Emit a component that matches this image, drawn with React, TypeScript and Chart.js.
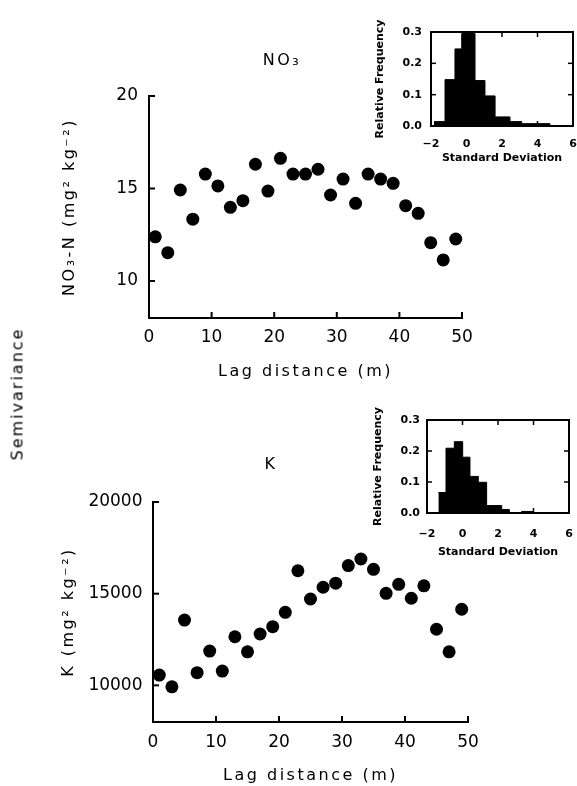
import React, { useEffect, useRef } from 'react';
import { Chart, registerables } from 'chart.js';

Chart.register(...registerables);
Chart.defaults.font.family = '"DejaVu Sans", sans-serif';
Chart.defaults.color = '#000';

// ---------- data ----------
const lagDistances = [1, 3, 5, 7, 9, 11, 13, 15, 17, 19, 21, 23, 25, 27, 29, 31, 33, 35, 37, 39, 41, 43, 45, 47, 49];
const no3Semivariance = [12.39, 11.53, 14.92, 13.34, 15.78, 15.14, 13.98, 14.34, 16.31, 14.86, 16.63, 15.78, 15.78, 16.04, 14.65, 15.51, 14.2, 15.78, 15.51, 15.28, 14.07, 13.66, 12.07, 11.14, 12.27];
const kSemivariance = [10560, 9920, 13560, 10690, 11870, 10780, 12650, 11830, 12800, 13200, 13980, 16250, 14710, 15350, 15570, 16530, 16890, 16330, 15020, 15510, 14750, 15430, 13060, 11830, 14150];

const lagTicks = [0, 10, 20, 30, 40, 50];
const no3Ticks = [10, 15, 20];
const kTicks = [10000, 15000, 20000];

const no3HistEdges = [-1.83, -1.21, -0.65, -0.27, 0.48, 1.04, 1.61, 2.45, 3.11, 4.7];
const no3HistFreq = [0.014, 0.148, 0.246, 0.295, 0.145, 0.096, 0.029, 0.014, 0.0075];
const kHistEdges = [-1.36, -0.93, -0.46, 0.01, 0.42, 0.89, 1.36, 2.21, 2.64, 3.33, 3.99];
const kHistFreq = [0.066, 0.209, 0.23, 0.18, 0.118, 0.099, 0.024, 0.011, 0, 0.005];

const sdTicks = [-2, 0, 2, 4, 6];
const freqTicks = [0, 0.1, 0.2, 0.3];

const lagTitle = 'Lag distance (m)';
const no3Title = 'NO₃';
const no3AxisTitle = 'NO₃-N (mg² kg⁻²)';
const kTitle = 'K';
const kAxisTitle = 'K (mg² kg⁻²)';
const freqTitle = 'Relative Frequency';
const sdTitle = 'Standard Deviation';
const semivarianceTitle = 'Semivariance';

// ---------- helpers ----------
const fixedSize = (size: number) => (scale: any) => {
  if (scale.isHorizontal()) scale.height = size;
  else scale.width = size;
};
const useTicks = (values: number[]) => (scale: any) => {
  scale.ticks = values.map((v) => ({ value: v }));
};

// letter spacing for titles (drawn before datasets); tick labels drawn later without it
const spacingPlugin = {
  id: 'titleSpacing',
  beforeDraw(chart: any, _args: any, opts: any) {
    chart.ctx.letterSpacing = (opts.px ?? 0) + 'px';
  },
  beforeDatasetsDraw(chart: any) {
    chart.ctx.letterSpacing = '0px';
  },
};

// tick marks pointing into the plot area
const inwardTicksPlugin = {
  id: 'inwardTicks',
  afterDraw(chart: any, _args: any, opts: any) {
    const ctx = chart.ctx;
    const len = opts.length ?? 6;
    ctx.save();
    ctx.strokeStyle = '#000';
    ctx.lineWidth = opts.width ?? 2;
    Object.values(chart.scales).forEach((scale: any) => {
      if (!scale.options.display || scale.options.noTicks) return;
      scale.ticks.forEach((t: any) => {
        const p = scale.getPixelForValue(t.value);
        ctx.beginPath();
        if (scale.position === 'left') { ctx.moveTo(scale.right, p); ctx.lineTo(scale.right + len, p); }
        else if (scale.position === 'right') { ctx.moveTo(scale.left, p); ctx.lineTo(scale.left - len, p); }
        else if (scale.position === 'bottom') { ctx.moveTo(p, scale.top); ctx.lineTo(p, scale.top - len); }
        else if (scale.position === 'top') { ctx.moveTo(p, scale.bottom); ctx.lineTo(p, scale.bottom + len); }
        ctx.stroke();
      });
    });
    ctx.restore();
  },
};

function mainAxis(o: {
  position: string; min: number; max: number; ticks: number[]; size: number;
  title: string; titlePad: any; tickPad: number;
}) {
  return {
    type: 'linear',
    position: o.position,
    min: o.min,
    max: o.max,
    afterFit: fixedSize(o.size),
    afterBuildTicks: useTicks(o.ticks),
    grid: { display: false, drawOnChartArea: false, drawTicks: false },
    border: { display: true, color: '#000', width: 2 },
    ticks: {
      color: '#000', font: { size: 17 }, padding: o.tickPad, z: 1, autoSkip: false, maxRotation: 0,
      callback: (v: any) => String(v),
    },
    title: { display: true, text: o.title, color: '#000', font: { size: 16 }, padding: o.titlePad },
  };
}

function scatterConfig(o: {
  values: number[]; yMin: number; yMax: number; yTicks: number[];
  title: string; titlePad: any; yTitle: string;
  yWidth: number; yTitlePad: number; yTickPad: number;
  xHeight: number; xTitlePad: number; xTickPad: number; rightSpace: number;
}): any {
  return {
    type: 'scatter',
    data: {
      datasets: [{
        data: lagDistances.map((x, i) => ({ x, y: o.values[i] })),
        backgroundColor: '#000',
        borderColor: '#000',
        borderWidth: 0,
        pointRadius: 6.5,
        pointHoverRadius: 6.5,
        clip: false,
      }],
    },
    options: {
      responsive: false,
      animation: false,
      events: [],
      layout: { padding: 0 },
      plugins: {
        legend: { display: false },
        tooltip: { enabled: false },
        title: {
          display: true, text: o.title, color: '#000',
          font: { size: 16, weight: 'normal' }, padding: o.titlePad,
        },
        titleSpacing: { px: 2.5 },
        inwardTicks: { length: 6, width: 2 },
      },
      scales: {
        x: mainAxis({
          position: 'bottom', min: 0, max: 50, ticks: lagTicks, size: o.xHeight,
          title: lagTitle, titlePad: { bottom: o.xTitlePad }, tickPad: o.xTickPad,
        }),
        y: mainAxis({
          position: 'left', min: o.yMin, max: o.yMax, ticks: o.yTicks, size: o.yWidth,
          title: o.yTitle, titlePad: { top: o.yTitlePad }, tickPad: o.yTickPad,
        }),
        // empty space on the right so the chart title is centred like the original
        spacer: {
          type: 'linear', position: 'right', display: true, noTicks: true,
          afterFit: fixedSize(o.rightSpace),
          grid: { display: false }, border: { display: false }, ticks: { display: false },
        },
      },
    },
    plugins: [spacingPlugin, inwardTicksPlugin],
  };
}

function insetConfig(o: {
  edges: number[]; freq: number[];
  yWidth: number; y2Width: number; x2Height: number; xHeight: number;
  yTitlePad: number; yTickPad: number; xLabelOffset: number; xTitlePad: number;
}): any {
  const points = o.edges.map((e, i) => ({ x: e, y: i < o.freq.length ? o.freq[i] : 0 }));
  const font = { size: 11, weight: 'bold' };
  // label centre sits lineHeight/2 below the axis (padding kept 0 so the frame is not shrunk)
  const xTickFont = { size: 11, weight: 'bold', lineHeight: (2 * o.xLabelOffset) / 11 };
  const grid = { display: false, drawOnChartArea: false, drawTicks: false };
  const border = { display: true, color: '#000', width: 2 };
  const fmtSd = (v: any) => (v < 0 ? '−' + Math.abs(v) : String(v));
  return {
    type: 'line',
    data: {
      datasets: [{
        data: points,
        stepped: 'before',
        fill: 'origin',
        backgroundColor: '#000',
        borderColor: '#000',
        borderWidth: 1,
        pointRadius: 0,
      }],
    },
    options: {
      responsive: false,
      animation: false,
      events: [],
      layout: { padding: 0 },
      plugins: {
        legend: { display: false },
        tooltip: { enabled: false },
        inwardTicks: { length: 5, width: 1.5 },
      },
      scales: {
        x: {
          type: 'linear', position: 'bottom', min: -2, max: 6,
          afterFit: fixedSize(o.xHeight), afterBuildTicks: useTicks(sdTicks),
          grid, border,
          ticks: { font: xTickFont, color: '#000', padding: 0, autoSkip: false, maxRotation: 0, callback: fmtSd },
          title: { display: true, text: sdTitle, font, color: '#000', padding: { bottom: o.xTitlePad } },
        },
        x2: {
          type: 'linear', position: 'top', min: -2, max: 6, display: true,
          afterFit: fixedSize(o.x2Height), afterBuildTicks: useTicks(sdTicks),
          grid, border, ticks: { display: false },
        },
        y: {
          type: 'linear', position: 'left', min: 0, max: 0.3,
          afterFit: fixedSize(o.yWidth), afterBuildTicks: useTicks(freqTicks),
          grid, border,
          ticks: { font, color: '#000', padding: o.yTickPad, callback: (v: any) => Number(v).toFixed(1) },
          title: { display: true, text: freqTitle, font, color: '#000', padding: { top: o.yTitlePad } },
        },
        y2: {
          type: 'linear', position: 'right', min: 0, max: 0.3, display: true,
          afterFit: fixedSize(o.y2Width), afterBuildTicks: useTicks(freqTicks),
          grid, border, ticks: { display: false },
        },
      },
    },
    plugins: [inwardTicksPlugin],
  };
}

function ChartBox(props: { left: number; top: number; width: number; height: number; make: () => any }) {
  const ref = useRef<HTMLCanvasElement>(null);
  useEffect(() => {
    const chart = new Chart(ref.current as HTMLCanvasElement, props.make());
    return () => chart.destroy();
  }, []);
  return (
    <canvas
      ref={ref}
      width={props.width}
      height={props.height}
      style={{ position: 'absolute', left: props.left, top: props.top, width: props.width, height: props.height }}
    />
  );
}

export default function App() {
  return (
    <div style={{ position: 'absolute', left: 0, top: 0, width: 577, height: 786, background: '#fff', overflow: 'hidden' }}>
      <ChartBox
        left={0} top={0} width={564} height={400}
        make={() => scatterConfig({
          values: no3Semivariance, yMin: 8, yMax: 20, yTicks: no3Ticks,
          title: no3Title, titlePad: { top: 51.4, bottom: 25.4 }, yTitle: no3AxisTitle,
          yWidth: 149, yTitlePad: 60.4, yTickPad: 11,
          xHeight: 82, xTitlePad: 18.4, xTickPad: 9.3, rightSpace: 102,
        })}
      />
      <ChartBox
        left={0} top={400} width={542} height={386}
        make={() => scatterConfig({
          values: kSemivariance, yMin: 8000, yMax: 20000, yTicks: kTicks,
          title: kTitle, titlePad: { top: 54.9, bottom: 27.9 }, yTitle: kAxisTitle,
          yWidth: 153, yTitlePad: 59.4, yTickPad: 10.5,
          xHeight: 64, xTitlePad: 0.4, xTickPad: 10.3, rightSpace: 74,
        })}
      />
      <ChartBox
        left={360} top={0} width={217} height={170}
        make={() => insetConfig({
          edges: no3HistEdges, freq: no3HistFreq,
          yWidth: 71, y2Width: 4, x2Height: 32, xHeight: 44,
          yTitlePad: 13.4, yTickPad: 9, xLabelOffset: 18, xTitlePad: 5.4,
        })}
      />
      <ChartBox
        left={360} top={375} width={217} height={190}
        make={() => insetConfig({
          edges: kHistEdges, freq: kHistFreq,
          yWidth: 67, y2Width: 8, x2Height: 45, xHeight: 52,
          yTitlePad: 11.4, yTickPad: 7, xLabelOffset: 21, xTitlePad: 6.4,
        })}
      />
      <div
        style={{
          position: 'absolute', left: 17, top: 394,
          transform: 'translate(-50%, -50%) rotate(-90deg)',
          whiteSpace: 'nowrap', font: '16px "DejaVu Sans", sans-serif', letterSpacing: '2px', color: '#000',
        }}
      >
        {semivarianceTitle}
      </div>
    </div>
  );
}
